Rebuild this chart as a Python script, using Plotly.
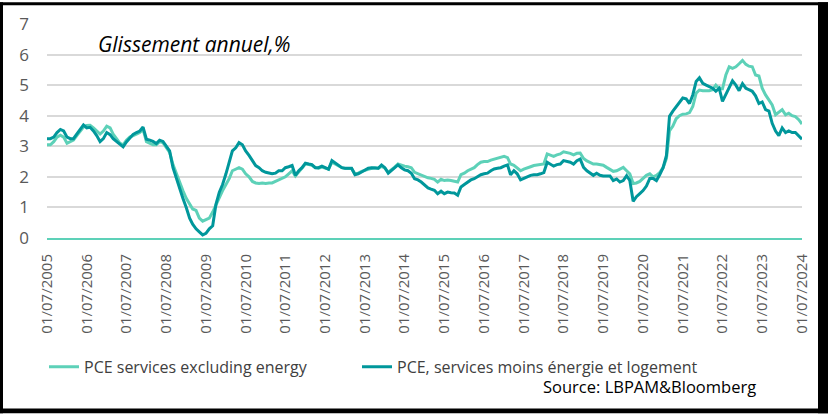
import pandas as pd
import plotly.graph_objects as go

# Monthly data, 2005-07 .. 2024-07 (229 months)
start_month = "2005-07-01"
n_months = 229

pce_services_ex_energy = [
    3.05, 3.05, 3.15, 3.3, 3.36, 3.3, 3.1, 3.15, 3.2, 3.35, 3.5, 3.63,
    3.68, 3.69, 3.6, 3.5, 3.4, 3.5, 3.66, 3.6, 3.4, 3.25, 3.1, 3.05,
    3.2, 3.3, 3.34, 3.4, 3.45, 3.55, 3.15, 3.1, 3.05, 3.05, 3.15, 3.12,
    2.95, 2.8, 2.4, 2.1, 1.85, 1.55, 1.3, 1.1, 0.95, 0.9, 0.65, 0.55,
    0.6, 0.65, 0.85, 1.1, 1.3, 1.55, 1.75, 1.95, 2.2, 2.25, 2.3, 2.25,
    2.1, 2.0, 1.85, 1.8, 1.78, 1.8, 1.78, 1.8, 1.8, 1.85, 1.9, 1.95,
    2.0, 2.1, 2.2, 2.03, 2.15, 2.3, 2.42, 2.4, 2.38, 2.3, 2.28, 2.32,
    2.28, 2.25, 2.48, 2.42, 2.35, 2.3, 2.27, 2.28, 2.27, 2.1, 2.12, 2.18,
    2.22, 2.26, 2.28, 2.3, 2.28, 2.35, 2.28, 2.15, 2.22, 2.32, 2.42, 2.38,
    2.35, 2.33, 2.3, 2.15, 2.1, 2.05, 2.0, 1.97, 1.95, 1.92, 1.83, 1.92,
    1.88, 1.9, 1.88, 1.85, 1.83, 2.07, 2.12, 2.2, 2.25, 2.3, 2.4, 2.48,
    2.5, 2.5, 2.55, 2.58, 2.6, 2.65, 2.67, 2.63, 2.42, 2.38, 2.3, 2.2,
    2.25, 2.3, 2.33, 2.37, 2.38, 2.4, 2.42, 2.75, 2.7, 2.67, 2.72, 2.75,
    2.82, 2.8, 2.77, 2.72, 2.77, 2.78, 2.6, 2.52, 2.48, 2.42, 2.42, 2.4,
    2.38, 2.31, 2.25, 2.18, 2.2, 2.25, 2.31, 2.2, 2.1, 1.78, 1.8, 1.85,
    1.95, 2.05, 2.1, 2.0, 2.05, 2.14, 2.3, 2.6, 3.5, 3.66, 3.9, 4.0,
    4.05, 4.06, 4.1, 4.3, 4.74, 4.84, 4.82, 4.82, 4.82, 4.85, 5.0, 4.88,
    4.88, 5.33, 5.6, 5.55, 5.6, 5.7, 5.81, 5.68, 5.62, 5.6, 5.33, 5.3,
    4.9, 4.68, 4.5, 4.35, 4.03, 4.1, 4.2, 4.03, 4.08, 4.0, 3.97, 3.87, 3.73,
]

pce_services_ex_energy_housing = [
    3.25, 3.25, 3.3, 3.45, 3.55, 3.5, 3.3, 3.25, 3.25, 3.4, 3.55, 3.7,
    3.6, 3.62, 3.5, 3.35, 3.15, 3.25, 3.45, 3.38, 3.25, 3.15, 3.05, 2.98,
    3.14, 3.25, 3.39, 3.45, 3.5, 3.63, 3.23, 3.2, 3.16, 3.09, 3.2, 3.16,
    3.0, 2.85, 2.3, 1.95, 1.6, 1.3, 1.0, 0.65, 0.45, 0.3, 0.2, 0.1,
    0.15, 0.3, 0.4, 1.1, 1.5, 1.75, 2.1, 2.5, 2.85, 2.95, 3.12, 3.05,
    2.85, 2.7, 2.55, 2.37, 2.3, 2.2, 2.15, 2.12, 2.1, 2.12, 2.2, 2.2,
    2.3, 2.33, 2.37, 2.05, 2.2, 2.3, 2.45, 2.42, 2.4, 2.3, 2.3, 2.35,
    2.3, 2.25, 2.53, 2.45, 2.37, 2.3, 2.28, 2.28, 2.28, 2.07, 2.1, 2.16,
    2.22, 2.28, 2.3, 2.3, 2.28, 2.39, 2.3, 2.12, 2.2, 2.3, 2.39, 2.3,
    2.23, 2.2, 2.12, 1.94, 1.9, 1.83, 1.75, 1.64, 1.6, 1.56, 1.45, 1.53,
    1.45, 1.5, 1.48, 1.47, 1.4, 1.67, 1.75, 1.83, 1.9, 1.94, 2.0, 2.07,
    2.1, 2.12, 2.2, 2.26, 2.28, 2.3, 2.35, 2.39, 2.07, 2.2, 2.1, 1.9,
    1.95, 2.0, 2.05, 2.07, 2.07, 2.1, 2.14, 2.48, 2.42, 2.35, 2.4, 2.42,
    2.53, 2.5, 2.48, 2.42, 2.53, 2.58, 2.31, 2.2, 2.14, 2.05, 2.12, 2.05,
    2.03, 2.03, 2.03, 1.88, 1.93, 1.83, 1.88, 2.04, 1.88, 1.2, 1.35, 1.45,
    1.55, 1.7, 1.95, 1.95, 1.88, 2.07, 2.3, 2.7, 3.98, 4.15, 4.3, 4.45,
    4.58, 4.55, 4.4, 4.68, 5.12, 5.24, 5.06, 5.0, 4.96, 4.9, 4.8, 4.9,
    4.47, 4.7, 4.95, 5.14, 5.0, 4.82, 5.05, 4.9, 4.85, 4.8, 4.65, 4.4,
    4.45, 4.2, 4.15, 3.75, 3.5, 3.35, 3.6, 3.45, 3.5, 3.45, 3.45, 3.35, 3.23,
]

tick_years = list(range(2005, 2025))
tick_vals = [f"{y}-07-01" for y in tick_years]
tick_text = [f"01/07/{y}" for y in tick_years]

series_names = ["PCE services excluding energy", "PCE, services moins énergie et logement"]
light_color = "#5DD1B8"
dark_color = "#00979B"

dates = pd.date_range(start_month, periods=n_months, freq="MS")

fig = go.Figure()
fig.add_trace(go.Scatter(x=dates, y=pce_services_ex_energy, mode="lines",
                         name=series_names[0], legend="legend",
                         line=dict(color=light_color, width=3)))
fig.add_trace(go.Scatter(x=dates, y=pce_services_ex_energy_housing, mode="lines",
                         name=series_names[1], legend="legend2",
                         line=dict(color=dark_color, width=3)))

W, H = 828, 415
L, R, T, B = 47, 26, 22, 177
pw, ph = W - L - R, H - T - B

def px_x(x):
    return (x - L) / pw

def px_y(y):
    return (H - B - y) / ph

legend_common = dict(orientation="h", xanchor="left", y=px_y(368), yanchor="middle",
                     font=dict(size=16, color="#404040"),
                     bgcolor="rgba(0,0,0,0)", itemclick=False, itemdoubleclick=False)

fig.update_layout(
    width=W, height=H,
    margin=dict(l=L, r=R, t=T, b=B, pad=0),
    paper_bgcolor="white", plot_bgcolor="white",
    font=dict(family="Open Sans, Arial, sans-serif", color="#595959"),
    showlegend=True,
    legend=dict(x=px_x(44), **legend_common),
    legend2=dict(x=px_x(357), **legend_common),
    xaxis=dict(type="date", range=["2005-07-01", "2024-07-01"],
               tickvals=tick_vals, ticktext=tick_text, tickangle=-90,
               tickfont=dict(size=15, color="#595959"),
               showgrid=False, zeroline=False,
               showline=True, linecolor=light_color, linewidth=2,
               ticks="", ticklabelstandoff=8),
    yaxis=dict(range=[0, 7], dtick=1, tickformat="d",
               tickfont=dict(size=17, color="#595959"),
               showgrid=True, gridcolor="#D9D9D9", gridwidth=2,
               zeroline=False, showline=False, ticks="",
               ticklabelstandoff=17),
)

fig.add_annotation(text="<i>Glissement annuel,%</i>", xref="paper", yref="paper",
                   x=px_x(96), y=px_y(42), xanchor="left", yanchor="middle",
                   showarrow=False, font=dict(size=21, color="#000000"))
fig.add_annotation(text="Source: LBPAM&Bloomberg", xref="paper", yref="paper",
                   x=px_x(758), y=px_y(388), xanchor="right", yanchor="middle",
                   showarrow=False, font=dict(size=16.5, color="#000000"))

# outer black frame
frame = [(0, 0, 3, H), (0, 0, W, 3), (818, 0, W, H), (0, 410, W, H)]
for x0, y0, x1, y1 in frame:
    fig.add_shape(type="rect", xref="paper", yref="paper",
                  x0=px_x(x0), x1=px_x(x1), y0=px_y(y1), y1=px_y(y0),
                  fillcolor="black", line=dict(width=0), layer="above")

fig.write_html("out.html",
               config={"displayModeBar": False},
               post_script="document.body.style.margin='0';document.body.style.overflow='hidden';")
